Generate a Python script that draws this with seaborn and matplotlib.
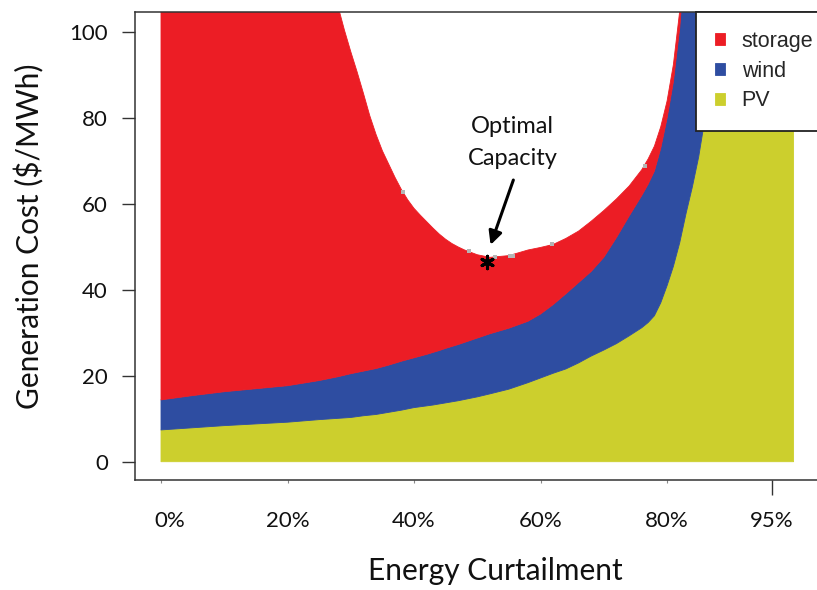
import matplotlib
matplotlib.use("Agg")
import matplotlib.pyplot as plt
import matplotlib.transforms as mtransforms
import seaborn as sns

# Energy curtailment (%) and stacked generation cost components ($/MWh)
curtailment = [0, 5, 10, 15, 20, 25,
               28, 29, 30, 31, 32, 33, 34, 35, 36, 37, 38, 39, 40, 41, 42, 43, 44, 45, 46, 47, 48,
               50, 52, 55, 58,
               60, 62, 64, 66, 68, 70, 72, 74, 76,
               77, 78, 79, 80, 81, 82, 83, 84, 85, 86, 87, 88,
               90, 93, 96, 100]
pv_cost = [7.4, 7.9, 8.4, 8.8, 9.2, 9.8,
           10.1, 10.2, 10.3, 10.5, 10.7, 10.85, 11.0, 11.25, 11.5, 11.75, 12.0, 12.3, 12.6,
           12.8, 13.0, 13.2, 13.45, 13.7, 13.95, 14.2, 14.5,
           15.1, 15.8, 16.9, 18.4,
           19.5, 20.6, 21.6, 23.0, 24.6, 26.0, 27.5, 29.3, 31.2,
           32.4, 34.0, 37.0, 41.0, 45.5, 51.0, 57.8, 64, 71, 80, 95, 115,
           160, 250, 350, 500]
wind_cost = [7.0, 7.5, 7.9, 8.2, 8.5, 9.1,
             9.7, 9.95, 10.2, 10.3, 10.4, 10.55, 10.7, 10.85, 11.0, 11.2, 11.4, 11.5, 11.6,
             11.8, 12.0, 12.25, 12.45, 12.7, 12.9, 13.1, 13.3,
             13.7, 14.0, 14.2, 14.3,
             14.9, 16.0, 17.5, 18.7, 19.7, 21.6, 24.7, 27.9, 30.8,
             32.2, 33.7, 36.0, 39.0, 43.0, 50.0, 62.2, 81, 104, 130, 155, 175,
             210, 230, 250, 300]
storage_cost = [485.6, 404.6, 323.7, 243.0, 172.3, 111.1,
                86.2, 80.35, 75.0, 70.0, 64.7, 59.2, 54.5, 50.3, 46.8, 43.25, 40.0, 37.2, 34.8,
                32.8, 30.9, 28.95, 27.1, 25.4, 23.95, 22.7, 21.5,
                19.4, 17.8, 16.9, 16.6,
                15.5, 14.0, 12.9, 12.0, 11.7, 10.9, 9.0, 7.0, 6.0,
                5.9, 5.8, 5.0, 4.0, 4.0, 4.0, 5, 5, 5, 5, 5, 5,
                5, 5, 5, 5]

# grey sample points on the total cost curve
sample_x = [38.2, 48.7, 52.8, 55.2, 55.7, 61.8, 76.5]
sample_y = [62.7, 49.1, 47.6, 47.9, 47.9, 50.6, 68.9]

# optimal capacity point
optimal_x = [51.6]
optimal_y = [46.6]

xtick_pos = [0, 20, 40, 60, 80]
xtick_labels = ['0%', '20%', '40%', '60%', '80%']
xtick_extra_pos = [96.6]
xtick_extra_labels = ['95%']
ytick_pos = [0, 20, 40, 60, 80, 100]

colors = {'PV': '#CCCF2D', 'wind': '#2E4DA1', 'storage': '#EC1D25'}

sns.set_theme(style='ticks')
plt.rcParams['font.family'] = ['Lato', 'DejaVu Sans']

fig = plt.figure(figsize=(8.17, 5.90), dpi=100)
ax = fig.add_axes([135 / 817, 110 / 590, 682 / 817, 468.3 / 590])

polys = ax.stackplot(curtailment, pv_cost, wind_cost, storage_cost,
                     colors=[colors['PV'], colors['wind'], colors['storage']],
                     labels=['PV', 'wind', 'storage'],
                     edgecolor='face', linewidth=0.6, zorder=1)

sns.scatterplot(x=sample_x, y=sample_y, marker='s', color='#b5b5b5', s=12,
                linewidth=0, ax=ax, zorder=3)
ax.scatter(optimal_x, optimal_y, marker=(6, 2, 0), s=80, c='black',
           linewidths=2.2, zorder=4)

ax.text(55.6, 74.3, 'Optimal\nCapacity', ha='center', va='center',
        fontsize=17, linespacing=1.65, color='#111111')
ax.annotate('', xy=(52.1, 50.5), xytext=(55.7, 65.6),
            arrowprops=dict(arrowstyle='-|>', color='black', lw=2.2,
                            mutation_scale=20, shrinkA=0, shrinkB=0))

ax.set_xlim(-4.11, 103.7)
ax.set_ylim(-4.26, 104.8)

ax.set_xticks(xtick_pos, labels=xtick_labels)
ax.set_xticks(xtick_extra_pos, labels=xtick_extra_labels, minor=True)
ax.set_yticks(ytick_pos)
ax.tick_params(axis='x', which='major', length=2, width=0.8, pad=20,
               labelsize=16, color='#888888', labelcolor='#111111')
ax.tick_params(axis='x', which='minor', length=11, width=1, pad=11.5,
               labelsize=16, color='#333333', labelcolor='#111111')
ax.tick_params(axis='y', length=9.5, width=1, pad=10, labelsize=16,
               color='#333333', labelcolor='#111111')

# first label sits a little right of its tick in the original
first = ax.get_xticklabels()[0]
first.set_transform(first.get_transform() +
                    mtransforms.ScaledTranslation(9 / 100, 0, fig.dpi_scale_trans))

ax.set_xlabel('Energy Curtailment', fontsize=21.5, color='#111111')
ax.set_ylabel('Generation Cost ($/MWh)', fontsize=21.5, color='#111111')
ax.xaxis.set_label_coords(0.528, -0.165)
ax.yaxis.set_label_coords(-0.1334, 0.521)

for side in ['left', 'bottom', 'top']:
    ax.spines[side].set_color('#333333')
    ax.spines[side].set_linewidth(1.1)
ax.spines['right'].set_visible(False)

handles = polys[::-1]
leg = ax.legend(handles, ['storage', 'wind', 'PV'], loc='upper left',
                bbox_to_anchor=((696 - 135) / 682, 1.0), borderaxespad=0,
                frameon=True, fancybox=False, framealpha=1,
                prop={'family': 'Liberation Sans', 'size': 15.5},
                handlelength=0.47, handleheight=0.47, handletextpad=0.75,
                labelspacing=0.4, borderpad=0.9)
leg.get_frame().set_edgecolor('#222222')
leg.get_frame().set_linewidth(1.3)

fig.savefig('out.png', dpi=100)
